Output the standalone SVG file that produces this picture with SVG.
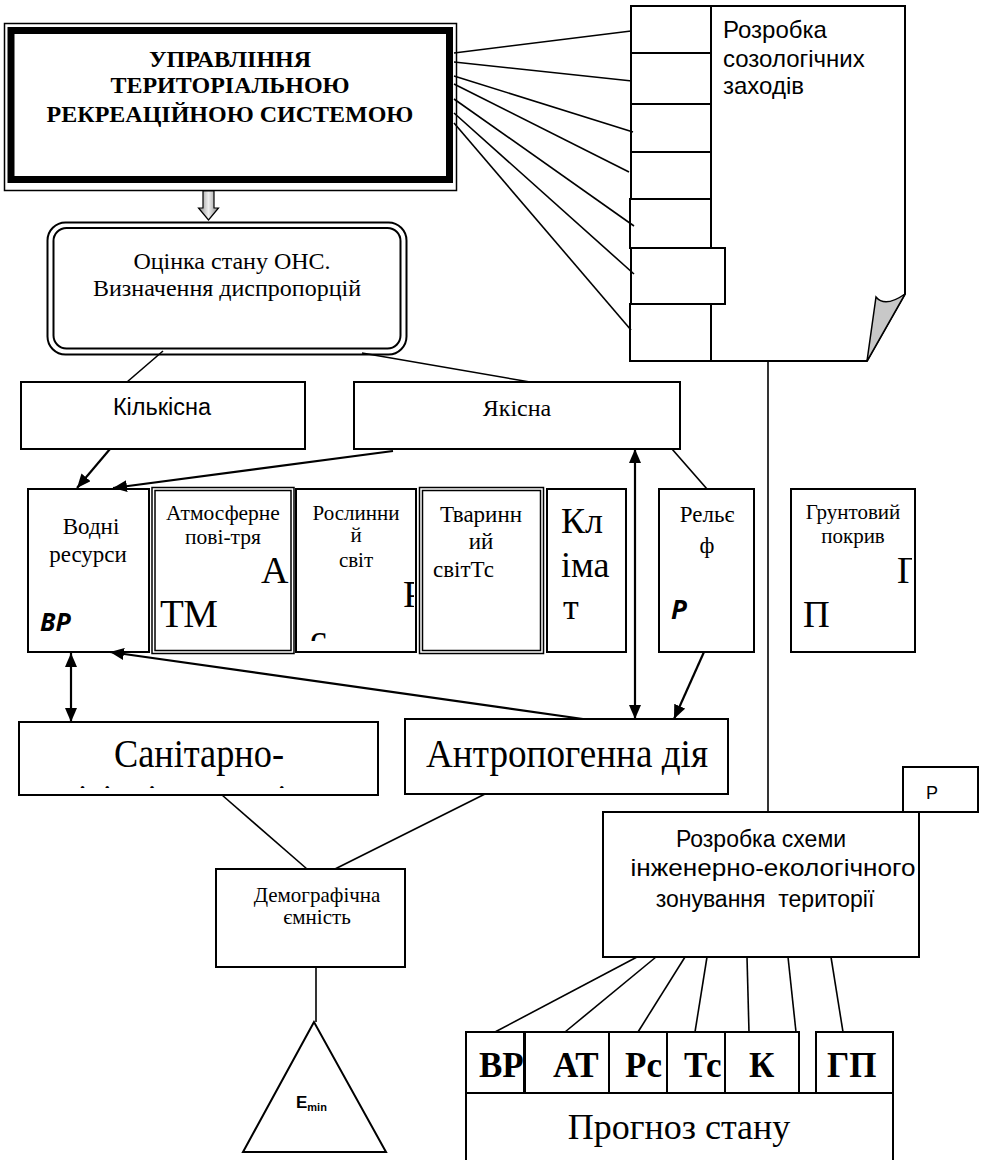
<svg xmlns="http://www.w3.org/2000/svg" width="983" height="1160" viewBox="0 0 983 1160">
<style>
.bx{fill:#fff;stroke:#000;stroke-width:2}
.ln{fill:none;stroke:#000;stroke-width:1.6}
.ar{fill:none;stroke:#000;stroke-width:2.2}
.dbl{fill:#fff;stroke:#000;stroke-width:4.5}
.dbw{fill:none;stroke:#fff;stroke-width:1.5}
.t{font-family:"Liberation Serif","Times New Roman",serif;fill:#000}
.a{font-family:"Liberation Sans",Arial,sans-serif;fill:#000}
.bi{font-family:"Open Sans","Liberation Sans",sans-serif;font-weight:bold;font-style:italic;fill:#000}
.c{text-anchor:middle}
</style>
<defs>
<marker id="ah" markerUnits="userSpaceOnUse" markerWidth="15" markerHeight="13" refX="14" refY="6" orient="auto-start-reverse">
<path d="M0,0 L14,6 L0,12 Z" fill="#000"/>
</marker>
<linearGradient id="gg" x1="0" y1="0" x2="1" y2="0">
<stop offset="0" stop-color="#888"/><stop offset="0.5" stop-color="#eee"/><stop offset="1" stop-color="#888"/>
</linearGradient>
<clipPath id="cRos"><rect x="296" y="489" width="118" height="152"/></clipPath>
<clipPath id="cGr"><rect x="791" y="489" width="121" height="160"/></clipPath>
<clipPath id="cSan"><rect x="19" y="722" width="359" height="66"/></clipPath>
<clipPath id="cTc"><rect x="667" y="1032" width="58" height="61"/></clipPath>
</defs>

<g id="upravlinnya">
<rect x="4.5" y="23.5" width="452" height="167" fill="#fff" stroke="#000" stroke-width="1.5"/>
<rect x="11" y="30.5" width="438.5" height="149" fill="#fff" stroke="#000" stroke-width="7"/>
<text class="t c" x="230" y="67" font-size="24" font-weight="bold">УПРАВЛІННЯ</text>
<text class="t c" x="230" y="93" font-size="24" font-weight="bold">ТЕРИТОРІАЛЬНОЮ</text>
<text class="t c" x="230" y="122" font-size="24" font-weight="bold">РЕКРЕАЦІЙНОЮ СИСТЕМОЮ</text>
</g>

<g id="block-arrow">
<polygon points="203,191 214,191 214,208 218.5,208 208.5,220 198.5,208 203,208" fill="url(#gg)" stroke="#000" stroke-width="1.2"/>
</g>

<g id="otsinka">
<rect x="47.5" y="222.5" width="359" height="132" rx="18" fill="#fff" stroke="#000" stroke-width="2"/>
<rect x="53.5" y="228" width="347" height="120.5" rx="13" fill="none" stroke="#000" stroke-width="2"/>
<text class="t c" x="232" y="269" font-size="24">Оцінка стану ОНС.</text>
<text class="t c" x="227" y="296" font-size="24">Визначення диспропорцій</text>
</g>

<g id="kilkisna">
<rect class="bx" x="21" y="382" width="284" height="67"/>
<text class="a c" x="162" y="415" font-size="23.5">Кількісна</text>
</g>

<g id="yakisna">
<rect class="bx" x="354" y="382" width="326" height="67"/>
<text class="t c" x="517" y="416" font-size="24">Якісна</text>
</g>

<g id="vodni">
<rect class="bx" x="28" y="489" width="121" height="163"/>
<text class="t c" x="91" y="534" font-size="23">Водні</text>
<text class="t c" x="88" y="562" font-size="23">ресурси</text>
<text class="bi" x="40" y="631" font-size="25">ВР</text>
</g>

<g id="atmosferne">
<rect class="dbl" x="153.5" y="489" width="139" height="163"/>
<rect class="dbw" x="153.5" y="489" width="139" height="163"/>
<text class="t c" x="223" y="520" font-size="21.5">Атмосферне</text>
<text class="t c" x="223" y="544" font-size="21.5">пові-тря</text>
<text class="t" x="261" y="583" font-size="38">А</text>
<text class="t" x="160" y="627" font-size="39">ТМ</text>
</g>

<g id="roslynnyi">
<rect class="bx" x="296" y="489" width="120" height="163"/>
<g clip-path="url(#cRos)">
<text class="t c" x="356" y="520" font-size="21">Рослинни</text>
<text class="t c" x="356" y="542" font-size="21">й</text>
<text class="t c" x="356" y="567" font-size="21">світ</text>
<text class="t" x="403" y="607" font-size="38">Р</text>
<text class="t" x="310" y="651" font-size="38">с</text>
</g>
</g>

<g id="tvarynnyi">
<rect class="dbl" x="421" y="489" width="121" height="163"/>
<rect class="dbw" x="421" y="489" width="121" height="163"/>
<text class="t c" x="481" y="522" font-size="23">Тваринн</text>
<text class="t c" x="481" y="549" font-size="23">ий</text>
<text class="t" x="433" y="577" font-size="23">світТс</text>
</g>

<g id="klimat">
<rect class="bx" x="547" y="489" width="79" height="163"/>
<text class="t" x="561" y="533" font-size="36">Кл</text>
<text class="t" x="561" y="577" font-size="36">іма</text>
<text class="t" x="563" y="619" font-size="36">т</text>
</g>

<g id="relief">
<rect class="bx" x="659" y="489" width="95" height="163"/>
<text class="t c" x="707" y="522" font-size="23">Рельє</text>
<text class="t c" x="707" y="553" font-size="23">ф</text>
<text class="bi" x="671" y="619" font-size="26">Р</text>
</g>

<g id="gruntovyi">
<rect class="bx" x="791" y="489" width="124" height="163"/>
<g clip-path="url(#cGr)">
<text class="t c" x="853" y="519" font-size="21">Грунтовий</text>
<text class="t c" x="853" y="543" font-size="21">покрив</text>
<text class="t" x="897" y="583" font-size="37">Г</text>
<text class="t" x="803" y="627" font-size="37">П</text>
</g>
</g>

<g id="sanitarno">
<rect class="bx" x="19" y="722" width="359" height="73"/>
<g clip-path="url(#cSan)">
<text class="t c" x="199" y="767" font-size="40" textLength="170" lengthAdjust="spacingAndGlyphs">Санітарно-</text>
<text class="t c" x="199" y="812" font-size="40" textLength="272" lengthAdjust="spacingAndGlyphs">гігієнічна ємність</text>
</g>
</g>

<g id="antropogenna">
<rect class="bx" x="405" y="719" width="323" height="75"/>
<text class="t c" x="567" y="767" font-size="39" textLength="282" lengthAdjust="spacingAndGlyphs">Антропогенна дія</text>
</g>

<g id="demografichna">
<rect class="bx" x="216" y="869" width="189" height="98"/>
<text class="t c" x="317" y="902" font-size="21">Демографічна</text>
<text class="t c" x="317" y="924" font-size="21">ємність</text>
</g>

<g id="emin">
<polygon points="314,1022 243,1152 386,1152" fill="#fff" stroke="#000" stroke-width="2"/>
<text class="a" x="296" y="1108" font-size="17" font-weight="bold">E<tspan font-size="11" dy="3">min</tspan></text>
</g>

<g id="sozolohichni">
<path d="M711,6 H905 V294 L867,361 H711 Z" fill="#fff" stroke="#000" stroke-width="2"/>
<path d="M905,294 L867,361 L876,297 Q885,308 905,294 Z" fill="#c8c8c8" stroke="#000" stroke-width="1.5"/>
<rect class="bx" x="631" y="6" width="80" height="47"/>
<rect class="bx" x="631" y="53" width="80" height="51"/>
<rect class="bx" x="631" y="104" width="80" height="48"/>
<rect class="bx" x="631" y="152" width="80" height="47"/>
<rect class="bx" x="630" y="199" width="81" height="49"/>
<rect class="bx" x="631" y="248" width="94" height="56"/>
<rect class="bx" x="630" y="304" width="81" height="57"/>
<text class="a" x="723" y="38" font-size="24">Розробка</text>
<text class="a" x="723" y="67" font-size="24">созологічних</text>
<text class="a" x="723" y="94" font-size="24">заходів</text>
</g>

<g id="p-box">
<rect class="bx" x="903" y="767" width="75" height="45"/>
<text class="a" x="926" y="799" font-size="18">Р</text>
</g>

<g id="rozrobka-skhemy">
<rect class="bx" x="603" y="812" width="316" height="145"/>
<text class="a c" x="761" y="847" font-size="23">Розробка схеми</text>
<text class="a c" x="773" y="876" font-size="23" textLength="285" lengthAdjust="spacingAndGlyphs">інженерно-екологічного</text>
<text class="a c" x="765" y="907" font-size="23" style="white-space:pre">зонування  території</text>
</g>

<g id="prohnoz">
<rect class="bx" x="466" y="1093" width="427" height="80"/>
<text class="t c" x="679" y="1139" font-size="36">Прогноз стану</text>
</g>

<g id="factor-row">
<rect class="bx" x="466" y="1032" width="58" height="61"/>
<rect class="bx" x="525" y="1032" width="84" height="61"/>
<rect class="bx" x="609" y="1032" width="58" height="61"/>
<rect class="bx" x="667" y="1032" width="58" height="61"/>
<rect class="bx" x="725" y="1032" width="74" height="61"/>
<rect class="bx" x="816" y="1032" width="77" height="61"/>
<text class="t" x="479" y="1077" font-size="35" font-weight="bold">ВР</text>
<text class="t" x="553" y="1077" font-size="35" font-weight="bold">АТ</text>
<text class="t" x="625" y="1077" font-size="35" font-weight="bold">Рс</text>
<text class="t" x="684" y="1077" font-size="35" font-weight="bold" clip-path="url(#cTc)">Тс</text>
<text class="t" x="749" y="1077" font-size="35" font-weight="bold">К</text>
<text class="t" x="827" y="1077" font-size="35" font-weight="bold">ГП</text>
</g>

<g id="connectors">
<line class="ln" x1="454" y1="53" x2="631" y2="31"/>
<line class="ln" x1="454" y1="62" x2="632" y2="81"/>
<line class="ln" x1="454" y1="76" x2="633" y2="132"/>
<line class="ln" x1="454" y1="84" x2="629" y2="172"/>
<line class="ln" x1="454" y1="99" x2="634" y2="226"/>
<line class="ln" x1="454" y1="113" x2="634" y2="274"/>
<line class="ln" x1="454" y1="123" x2="631" y2="330"/>
<line class="ln" x1="163" y1="351" x2="127" y2="382"/>
<line class="ln" x1="362" y1="353" x2="530" y2="382"/>
<line class="ln" x1="672" y1="449" x2="707" y2="489"/>
<line class="ln" x1="768" y1="361" x2="768" y2="812"/>
<line class="ar" x1="110" y1="449" x2="77" y2="488" marker-end="url(#ah)"/>
<line class="ar" x1="393" y1="451" x2="113" y2="488" marker-end="url(#ah)"/>
<line class="ar" x1="71" y1="653" x2="71" y2="722" marker-start="url(#ah)" marker-end="url(#ah)"/>
<line class="ar" x1="583" y1="719" x2="110" y2="652" marker-end="url(#ah)"/>
<line class="ar" x1="635" y1="449" x2="635" y2="719" marker-start="url(#ah)" marker-end="url(#ah)"/>
<line class="ar" x1="704" y1="652" x2="674" y2="719" marker-end="url(#ah)"/>
<line class="ln" x1="222" y1="795" x2="307" y2="869"/>
<line class="ln" x1="485" y1="794" x2="335" y2="869"/>
<line class="ln" x1="316" y1="967" x2="316" y2="1022"/>
<line class="ln" x1="637" y1="957" x2="495" y2="1032"/>
<line class="ln" x1="656" y1="957" x2="565" y2="1032"/>
<line class="ln" x1="685" y1="957" x2="638" y2="1032"/>
<line class="ln" x1="707" y1="957" x2="695" y2="1032"/>
<line class="ln" x1="747" y1="957" x2="749" y2="1032"/>
<line class="ln" x1="788" y1="957" x2="796" y2="1032"/>
<line class="ln" x1="831" y1="957" x2="843" y2="1032"/>
</g>
</svg>
